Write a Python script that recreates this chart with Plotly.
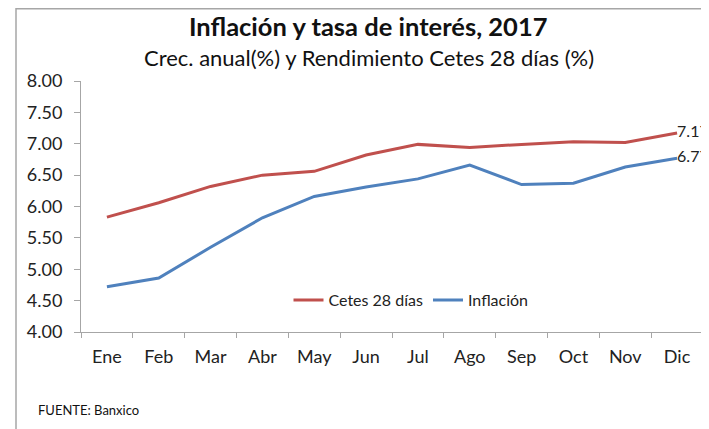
import plotly.graph_objects as go

months = ["Ene", "Feb", "Mar", "Abr", "May", "Jun", "Jul", "Ago", "Sep", "Oct", "Nov", "Dic"]
cetes = [5.83, 6.06, 6.32, 6.50, 6.56, 6.82, 6.99, 6.94, 6.99, 7.03, 7.02, 7.17]
inflacion = [4.72, 4.86, 5.35, 5.82, 6.16, 6.31, 6.44, 6.66, 6.35, 6.37, 6.63, 6.77]
y_ticks = [4.0, 4.5, 5.0, 5.5, 6.0, 6.5, 7.0, 7.5, 8.0]

FONT = "Lato"
RED = "#C0504D"
BLUE = "#4F81BD"
TXT = "#222222"

# plot area in figure pixels (page is offset by 8px body margin)
L, R, T, B = 73, 695, 73, 324
W, H = R - L, B - T

def px(x):
    return (x - L) / W

def py(y):
    return (B - y) / H

def last_label(vals):
    return [""] * (len(vals) - 1) + [f"{vals[-1]:.2f}"]

fig = go.Figure()
fig.add_trace(go.Scatter(
    x=months, y=cetes, name="Cetes 28 días", mode="lines+text",
    line=dict(color=RED, width=3),
    text=last_label(cetes), textposition="middle right",
    textfont=dict(family=FONT, size=16, color=TXT), cliponaxis=False,
))
fig.add_trace(go.Scatter(
    x=months, y=inflacion, name="Inflación", mode="lines+text",
    line=dict(color=BLUE, width=3),
    text=last_label(inflacion), textposition="middle right",
    textfont=dict(family=FONT, size=16, color=TXT), cliponaxis=False,
))

fig.update_layout(
    width=709, height=429,
    margin=dict(l=L, r=709 - R, t=T, b=429 - B),
    paper_bgcolor="white", plot_bgcolor="white",
    font=dict(family=FONT, color=TXT),
    showlegend=True,
    legend=dict(orientation="h", x=px(403), y=py(292), xanchor="center", yanchor="middle",
                font=dict(family=FONT, size=16, color=TXT), bgcolor="rgba(0,0,0,0)",
                itemwidth=30),
    xaxis=dict(
        showgrid=False, showline=True, linecolor="#A6A6A6", linewidth=1,
        ticks="outside", ticklen=5, tickcolor="#A6A6A6",
        tickson="boundaries", tickfont=dict(family=FONT, size=18, color=TXT),
        ticklabelstandoff=8,
        range=[-0.5, 11.5], fixedrange=True,
    ),
    yaxis=dict(
        range=[4, 8], tickvals=y_ticks, tickformat=".2f",
        showgrid=False, showline=True, linecolor="#A6A6A6", linewidth=1,
        ticks="outside", ticklen=6, tickcolor="#A6A6A6",
        tickfont=dict(family=FONT, size=18, color=TXT), zeroline=False,
        ticklabelstandoff=8,
    ),
    annotations=[
        dict(text="<b>Inflación y tasa de interés, 2017</b>", xref="paper", yref="paper",
             x=px(360), y=py(18), xanchor="center", yanchor="middle",
             showarrow=False, font=dict(family=FONT, size=25.5, color="#111")),
        dict(text="Crec. anual(%) y Rendimiento Cetes 28 días (%)", xref="paper", yref="paper",
             x=px(361), y=py(49), xanchor="center", yanchor="middle",
             showarrow=False, font=dict(family=FONT, size=22, color="#111")),
        dict(text="FUENTE: Banxico", xref="paper", yref="paper",
             x=px(28), y=py(402), xanchor="left", yanchor="middle",
             showarrow=False, font=dict(family=FONT, size=13, color="#111")),
    ],
    shapes=[
        dict(type="rect", xref="paper", yref="paper",
             x0=px(8), x1=1.3, y0=-0.6, y1=py(0.75),
             line=dict(color="#A6A6A6", width=1.5), fillcolor="rgba(0,0,0,0)", layer="below"),
    ],
)

fig.write_html("out.html")
